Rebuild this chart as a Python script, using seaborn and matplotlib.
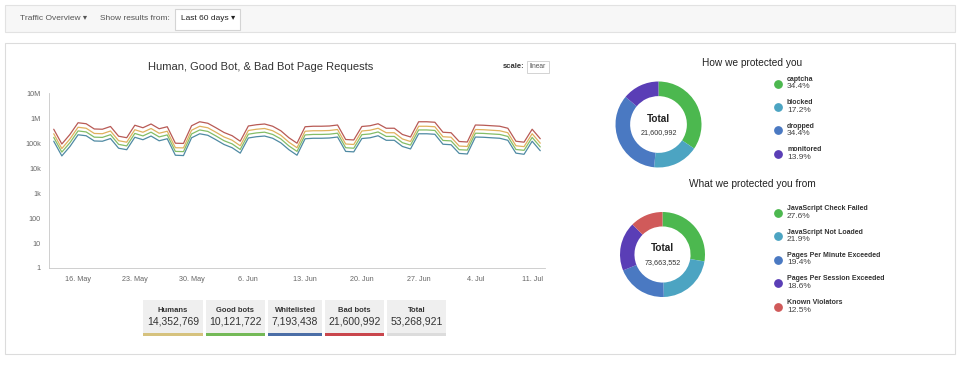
import pandas as pd
import matplotlib
matplotlib.use("Agg")
import matplotlib.pyplot as plt
import matplotlib.ticker as mticker
from matplotlib.patches import Rectangle
import seaborn as sns

sns.set_style("white")
plt.rcParams["font.family"] = ["Liberation Sans", "DejaVu Sans"]

# ---------------------------
# DATA (daily page requests, thousands)
# ---------------------------
dates = pd.date_range("2016-05-13", "2016-07-12", freq="D")

bad_bots = [363, 93, 224, 661, 603, 372, 363, 468, 191, 166,
            525, 417, 589, 380, 457, 100, 98, 501, 724, 631,
            417, 269, 200, 120, 490, 550, 589, 479, 316, 166,
            100, 457, 479, 479, 490, 537, 141, 135, 468, 501,
            603, 398, 398, 224, 178, 724, 724, 692, 275, 263,
            117, 112, 537, 525, 501, 479, 398, 120, 110, 363, 151]
humans = [240, 61, 148, 436, 398, 246, 240, 309, 126, 110,
          347, 275, 389, 251, 302, 66, 65, 331, 478, 416,
          275, 178, 132, 79, 323, 363, 389, 316, 209, 110,
          66, 302, 316, 316, 323, 354, 93, 89, 309, 331,
          398, 263, 263, 148, 117, 478, 478, 457, 182, 174,
          77, 74, 354, 347, 331, 316, 263, 79, 73, 240, 100]
good_bots = [171, 44, 105, 311, 283, 175, 171, 220, 90, 78,
             247, 196, 277, 179, 215, 47, 46, 235, 340, 297,
             196, 126, 94, 56, 230, 259, 277, 225, 149, 78,
             47, 215, 225, 225, 230, 252, 66, 63, 220, 235,
             283, 187, 187, 105, 84, 340, 340, 325, 129, 124,
             55, 53, 252, 247, 235, 225, 187, 56, 52, 171, 71]
whitelisted = [120, 31, 74, 218, 199, 123, 120, 154, 63, 55,
               173, 138, 194, 125, 151, 33, 32, 165, 239, 208,
               138, 89, 66, 40, 162, 182, 194, 158, 104, 55,
               33, 151, 158, 158, 162, 177, 47, 45, 154, 165,
               199, 131, 131, 74, 59, 239, 239, 228, 91, 87,
               39, 37, 177, 173, 165, 158, 131, 40, 36, 120, 50]

series_names = ["Bad bots", "Humans", "Good bots", "Whitelisted"]
line_colors = ["#b85a55", "#e0b15e", "#84bd66", "#4f8aa3"]

stat_labels = ["Humans", "Good bots", "Whitelisted", "Bad bots", "Total"]
stat_values = [14352769, 10121722, 7193438, 21600992, 53268921]
stat_colors = ["#d6c27e", "#74b957", "#4b6ea6", "#c9464c", "#dcdcdc"]

protect_labels = ["captcha", "blocked", "dropped", "monitored"]
protect_pct = [34.4, 17.2, 34.4, 13.9]
protect_total = 21600992

threat_labels = ["JavaScript Check Failed", "JavaScript Not Loaded",
                 "Pages Per Minute Exceeded", "Pages Per Session Exceeded",
                 "Known Violators"]
threat_pct = [27.6, 21.9, 19.4, 18.6, 12.5]
threat_total = 73663552

donut_colors = ["#4cb84f", "#4ca4c2", "#4a79c2", "#5a3eb6", "#d05a5a"]

W, H = 960, 390


def frac(x0, y0, x1, y1):
    # pixel box (top-left origin) -> figure fraction
    return [x0 / W, (H - y1) / H, (x1 - x0) / W, (y1 - y0) / H]


fig = plt.figure(figsize=(9.6, 3.9), dpi=100)
fig.patch.set_facecolor("white")

# ---------------------------
# PAGE FRAME (pixel overlay)
# ---------------------------
bg = fig.add_axes([0, 0, 1, 1], zorder=0)
bg.set_xlim(0, W)
bg.set_ylim(H, 0)
bg.axis("off")

bg.add_patch(Rectangle((5, 5), 950, 27, fc="#f7f7f7", ec="#e2e2e2", lw=0.8))
bg.add_patch(Rectangle((175, 9), 65, 21, fc="white", ec="#d4d4d4", lw=0.8))
bg.text(20, 19, "Traffic Overview \u25be", fontsize=6, color="#555555", va="center")
bg.text(100, 19, "Show results from:", fontsize=6, color="#555555", va="center")
bg.text(181, 19, "Last 60 days \u25be", fontsize=6, color="#222222", va="center")

bg.add_patch(Rectangle((5, 43), 950, 311, fc="white", ec="#dcdcdc", lw=0.8))

bg.text(261, 67, "Human, Good Bot, & Bad Bot Page Requests", fontsize=8,
        color="#333333", ha="center", va="center")
bg.text(525, 67, "scale:", fontsize=5.5, fontweight="bold", color="#333333",
        ha="right", va="center")
bg.add_patch(Rectangle((527, 61), 22, 12, fc="white", ec="#cccccc", lw=0.6))
bg.text(538, 67, "linear", fontsize=4.8, color="#555555", ha="center", va="center")

# ---------------------------
# LINE CHART
# ---------------------------
df = pd.DataFrame({
    "date": list(dates) * 4,
    "requests": [v * 1000 for v in bad_bots + humans + good_bots + whitelisted],
    "series": [s for s in series_names for _ in dates],
})

ax = fig.add_axes(frac(49, 93.3, 545, 268), zorder=2)
ax.set_facecolor("none")
sns.lineplot(data=df, x="date", y="requests", hue="series", hue_order=series_names,
             palette=dict(zip(series_names, line_colors)), linewidth=0.9,
             legend=False, ax=ax)
ax.set_yscale("log")
ax.set_ylim(1, 1e7)
ax.set_xlim(dates[0] - pd.Timedelta(hours=14), dates[-1] + pd.Timedelta(hours=14))

ylabels = {1: "1", 10: "10", 100: "100", 1e3: "1k", 1e4: "10k",
           1e5: "100k", 1e6: "1M", 1e7: "10M"}
ax.yaxis.set_major_locator(mticker.FixedLocator(list(ylabels.keys())))
ax.yaxis.set_minor_locator(mticker.NullLocator())
ax.yaxis.set_major_formatter(mticker.FuncFormatter(lambda v, p: ylabels.get(v, "")))

week_ticks = pd.date_range("2016-05-16", periods=9, freq="7D")
ax.set_xticks(week_ticks)
ax.set_xticklabels([f"{d.day}. {d:%b}" for d in week_ticks])

ax.tick_params(axis="both", labelsize=5.2, labelcolor="#666666", color="#c8c8c8",
               length=3, width=0.6, pad=3)
ax.tick_params(axis="x", pad=3)
for side in ["top", "right"]:
    ax.spines[side].set_visible(False)
for side in ["left", "bottom"]:
    ax.spines[side].set_color("#c8c8c8")
    ax.spines[side].set_linewidth(0.6)
ax.set_xlabel("")
ax.set_ylabel("")

# ---------------------------
# SUMMARY BOXES
# ---------------------------
box_widths = [60, 59, 54, 59, 59]
bx = 143
for label, value, color, bw in zip(stat_labels, stat_values, stat_colors, box_widths):
    bg.add_patch(Rectangle((bx, 300), bw, 34, fc="#efefef", ec="none"))
    bg.add_patch(Rectangle((bx, 333), bw, 2.5, fc=color, ec="none"))
    bg.text(bx + bw / 2, 310, label, fontsize=5.5, fontweight="bold",
            color="#333333", ha="center", va="center")
    bg.text(bx + bw / 2, 322, f"{value:,}", fontsize=7.5, color="#333333",
            ha="center", va="center")
    bx += bw + 3


# ---------------------------
# DONUTS
# ---------------------------
def donut(cx, cy, r, pcts, total, ty, vy):
    dax = fig.add_axes(frac(cx - r, cy - r, cx + r, cy + r), zorder=2)
    dax.pie(pcts, colors=donut_colors[:len(pcts)], startangle=90, counterclock=False,
            wedgeprops=dict(width=0.34, linewidth=0))
    dax.set_xlim(-1, 1)
    dax.set_ylim(-1, 1)
    dax.text(0, ty, "Total", fontsize=7.2, fontweight="bold", color="#222222",
             ha="center", va="center")
    dax.text(0, vy, f"{total:,}", fontsize=5.2, color="#333333",
             ha="center", va="center")


def legend(labels, pcts, y0, step):
    for i, (lab, p) in enumerate(zip(labels, pcts)):
        y = y0 + i * step
        bg.scatter(777.5, y + 4, s=28, color=donut_colors[i], zorder=3)
        bg.text(787, y, lab, fontsize=5, fontweight="bold", color="#333333",
                va="center")
        bg.text(787, y + 7.5, f"{p}%", fontsize=6, color="#444444", va="center")


bg.text(752, 63, "How we protected you", fontsize=7.3, color="#222222",
        ha="center", va="center")
donut(658.5, 124.5, 43, protect_pct, protect_total, 0.13, -0.18)
legend(protect_labels, protect_pct, 79.5, 23.4)

bg.text(752, 184, "What we protected you from", fontsize=7.3, color="#222222",
        ha="center", va="center")
donut(662.5, 254.5, 42.5, threat_pct, threat_total, 0.16, -0.2)
legend(threat_labels, threat_pct, 208.5, 23.5)

fig.savefig("out.png", dpi=100)
